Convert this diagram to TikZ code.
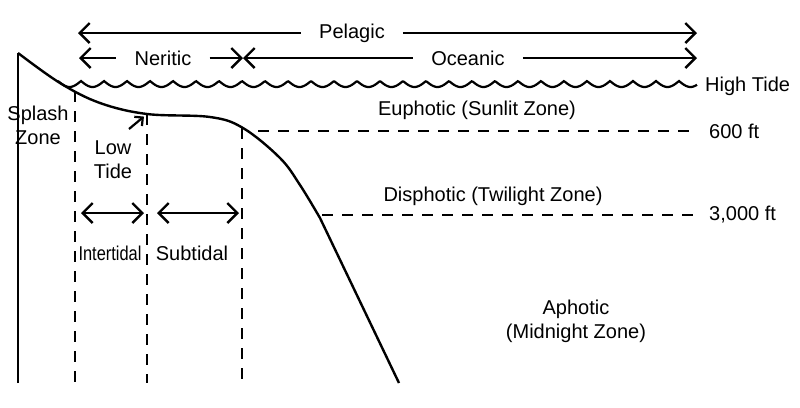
\documentclass[tikz,border=0pt]{standalone}
\usepackage{fontspec}
\setmainfont{Liberation Sans}
\usetikzlibrary{arrows.meta}

\begin{document}
\begin{tikzpicture}[
    x=0.5pt, y=-0.5pt,
    font=\fontsize{10}{12}\selectfont,
    line width=1.2pt,
    arr/.style={{Straight Barb[length=5pt,width=10pt]}-{Straight Barb[length=5pt,width=10pt]}},
    larr/.style={{Straight Barb[length=5pt,width=10pt]}-},
    rarr/.style={-{Straight Barb[length=5pt,width=10pt]}},
    smallarr/.style={-{Straight Barb[length=3pt,width=6pt]}},
    dashln/.style={line width=1.4pt, dash pattern=on 5.5pt off 4.5pt},
    lbl/.style={inner sep=0pt, align=center},
    gaplbl/.style={inner ysep=0pt, inner xsep=8.5pt}
  ]
  \useasboundingbox (0,0) rectangle (800,408);

  % shore profile
  \coordinate (top)  at (18,53);
  \coordinate (base) at (18,383);
  \coordinate (v1)   at (75,91);
  \coordinate (lowtide) at (147,114);
  \coordinate (v3)   at (242,128);
  \draw (base) -- (top);
  \draw plot[smooth, tension=0.6] coordinates {(18,53) (60,83) (100,103) (147,114)
    (210,117) (243,128) (280,158) (300,185) (320,218)} -- (399,383);

  % sea surface
  \draw[line width=1.1pt] plot[domain=0:639, samples=500]
    (\x+58, {81+6*abs(sin(\x/23*180))});
  \node[lbl, anchor=west] (high) at (704,86) {High Tide};

  % zone boundaries
  \draw[dashln] (v1) -- (v1 |- base);
  \draw[dashln] (lowtide) -- (lowtide |- base);
  \draw[dashln] (v3) -- (v3 |- base);

  \coordinate (d600)  at (258,131);
  \coordinate (d3000) at (322,215);
  \node[lbl, anchor=west] (ft600)  at (708,131) {600 ft};
  \node[lbl, anchor=west] (ft3000) at (708,215) {3,000 ft};
  \draw[dashln] (d600) -- (d600 -| 697,0);
  \draw[dashln] (d3000) -- (d3000 -| 697,0);

  % top scale
  \coordinate (pelL) at (78,33);
  \coordinate (pelR) at (697,33);
  \node[gaplbl] (pel) at (352,33) {Pelagic};
  \draw[larr] (pelL) -- (pel.west);
  \draw[rarr] (pel.east) -- (pelR);

  \coordinate (nerL) at (79,58);
  \coordinate (mid)  at (243,58);
  \coordinate (ocR)  at (697,58);
  \node[gaplbl] (ner) at (163,58) {Neritic};
  \node[gaplbl] (oce) at (468,58) {Oceanic};
  \draw[larr] (nerL) -- (ner.west);
  \draw[rarr] (ner.east) -- (mid);
  \draw[larr] (mid) -- (oce.west);
  \draw[rarr] (oce.east) -- (ocR);

  % zone names
  \node[lbl] (splash) at (38,125) {Splash\\Zone};
  \node[lbl] (low)    at (113,160) {Low\\Tide};
  \coordinate (lowarr) at (129,129);
  \draw[smallarr, line width=1.1pt, shorten >=2pt] (lowarr) -- (lowtide);

  \draw[arr, shorten <=3pt, shorten >=1.5pt] (v1 |- 0,213) -- (lowtide |- 0,213);
  \draw[arr, shorten <=5pt, shorten >=1.5pt] (lowtide |- 0,213) -- (v3 |- 0,213);
  \node[lbl] (inter) at (110,253) {\scalebox{0.82}[1]{Intertidal}};
  \node[lbl] (sub)   at (192,253) {Subtidal};

  \node[lbl] (eup) at (477,110) {Euphotic (Sunlit Zone)};
  \node[lbl] (dis) at (493,196) {Disphotic (Twilight Zone)};
  \node[lbl] (aph) at (576,321) {Aphotic\\(Midnight Zone)};
\end{tikzpicture}
\end{document}
